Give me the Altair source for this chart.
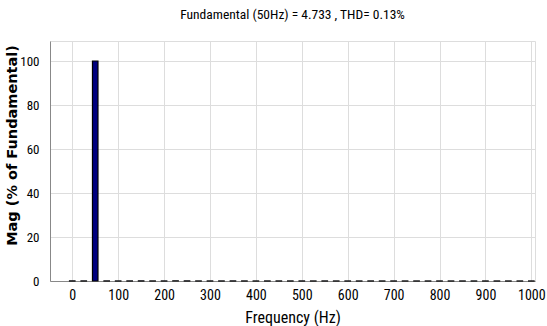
import altair as alt
import pandas as pd

# Harmonic spectrum (every 25 Hz bin from 0 to 1000 Hz), % of fundamental
freqs = [0, 25, 50, 75, 100, 125, 150, 175, 200, 225, 250, 275, 300, 325, 350,
         375, 400, 425, 450, 475, 500, 525, 550, 575, 600, 625, 650, 675, 700,
         725, 750, 775, 800, 825, 850, 875, 900, 925, 950, 975, 1000]
mags = [0.05, 0.04, 100.0, 0.04, 0.03, 0.04, 0.06, 0.03, 0.03, 0.04, 0.05, 0.03,
        0.03, 0.03, 0.04, 0.03, 0.02, 0.03, 0.03, 0.03, 0.03, 0.02, 0.03, 0.02,
        0.02, 0.02, 0.03, 0.02, 0.02, 0.02, 0.02, 0.02, 0.02, 0.02, 0.02, 0.02,
        0.02, 0.02, 0.02, 0.02, 0.02]
x_ticks = [0, 100, 200, 300, 400, 500, 600, 700, 800, 900, 1000]
y_ticks = [0, 20, 40, 60, 80, 100]
title_text = "Fundamental (50Hz) = 4.733 , THD= 0.13%"

df = pd.DataFrame({"freq": freqs, "mag": mags})

NARROW = "Roboto Condensed"

bars = alt.Chart(df).mark_bar(
    size=5.5, color="#00007F", stroke="black", strokeWidth=1.2
).encode(
    x=alt.X("freq:Q",
            scale=alt.Scale(domain=[-48.5, 1008], nice=False, zero=False, padding=0),
            axis=alt.Axis(values=x_ticks, title="Frequency (Hz)", format="d",
                          grid=True, ticks=False, labelPadding=7,
                          labelFontSize=14, labelFont=NARROW,
                          titleFont=NARROW, titleFontSize=16,
                          titleFontWeight="normal",
                          titleX=242.5, titleY=36, titleBaseline="middle",
                          titleAnchor="middle",
                          labelFlush=False)),
    y=alt.Y("mag:Q",
            scale=alt.Scale(domain=[0, 109.1], nice=False, padding=0),
            axis=alt.Axis(values=y_ticks, title="Mag (% of Fundamental)",
                          grid=True, ticks=False, labelPadding=11,
                          labelFontSize=13, labelFont=NARROW,
                          titleFont="DejaVu Sans",
                          titleFontWeight="bold", titleFontSize=14.5,
                          titleX=-38, titleY=104, titleBaseline="middle",
                          titleAngle=-90, titleAlign="center")),
)

chart = bars.properties(
    width=485,
    height=240,
    title=alt.TitleParams(title_text, fontSize=13.5, font=NARROW,
                          fontWeight="normal", anchor="middle", offset=20,
                          color="black"),
    autosize=alt.AutoSizeParams(type="none"),
    padding={"left": 50, "top": 41, "right": 12, "bottom": 45},
).configure_axis(
    labelColor="black",
    titleColor="black",
    domainColor="#555555",
    domainWidth=1,
    gridColor="#000000",
    gridDash=[2, 2],
    gridWidth=1,
    gridOpacity=0.75,
).configure_view(
    stroke="#555555", strokeWidth=1
).configure(background="white")

chart.save("out.html", embed_options={"renderer": "svg", "actions": False})
